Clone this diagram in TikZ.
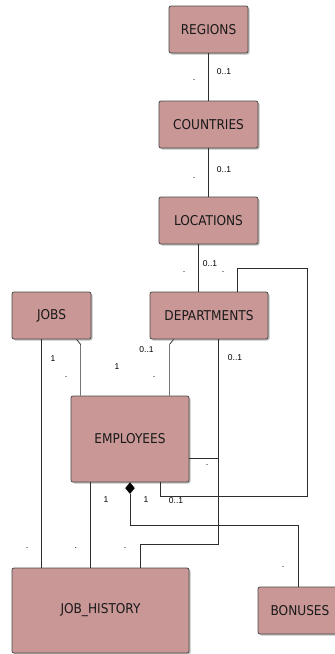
\documentclass[tikz,border=0pt]{standalone}
\usepackage{fontspec}
\setmainfont{Liberation Sans}
\newfontfamily\boxfont{DejaVu Sans Condensed}
\usetikzlibrary{shadows,shapes.geometric}
\definecolor{entfill}{RGB}{201,151,150}
\definecolor{entdraw}{RGB}{75,75,75}
\definecolor{linkc}{RGB}{45,45,45}
\begin{document}
\begin{tikzpicture}[x=1pt,y=-1pt,
  entity/.style={draw=entdraw, fill=entfill, rounded corners=2pt, line width=0.8pt,
    inner sep=0pt, font=\boxfont\fontsize{13.5}{16}\selectfont, text=black!90,
    drop shadow={shadow xshift=1.5pt, shadow yshift=-1.5pt, fill=black, opacity=0.25}},
  link/.style={draw=linkc, line width=0.7pt},
  mult/.style={font=\fontsize{8.5}{10}\selectfont, inner sep=0pt, text=black},
  role/.style={font=\fontsize{9}{10}\selectfont, inner sep=0pt, anchor=base, text=black}]
\useasboundingbox (0,0) rectangle (335,654);
\fill[white] (0,0) rectangle (335,654);
\clip (0,0) rectangle (335,654);

% entities
\node[entity, minimum width=79pt, minimum height=47pt] (regions) at (208.5,29.5) {REGIONS};
\node[entity, minimum width=99pt, minimum height=47pt] (countries) at (208.5,124.5) {COUNTRIES};
\node[entity, minimum width=99pt, minimum height=47pt] (locations) at (208.5,220.5) {LOCATIONS};
\node[entity, minimum width=79pt, minimum height=47pt] (jobs) at (51.5,315.5) {JOBS};
\node[entity, minimum width=118pt, minimum height=47pt] (departments) at (209,315.5) {DEPARTMENTS};
\node[entity, minimum width=118pt, minimum height=86pt] (employees) at (130,439) {EMPLOYEES};
\node[entity, minimum width=177pt, minimum height=85pt] (jobhist) at (100.5,610.5) {JOB\_HISTORY};
\node[entity, minimum width=84pt, minimum height=47pt] (bonuses) at (300,610.5) {BONUSES};

% helper coordinates
\coordinate (lp1) at (307,268);
\coordinate (lp2) at (160,496);
\coordinate (jh1) at (140,544);
\coordinate (b1) at (298,525);

% connectors
\draw[link] (regions) -- (countries);
\draw[link] (countries) -- (locations);
\draw[link] ([xshift=40pt]locations.south west) -- ([xshift=40pt]locations.south west |- departments.north);
\draw[link] ([xshift=88pt]departments.north west) |- (lp1) |- (lp2) -- (lp2 |- employees.south);
\draw[link] ([xshift=30pt]jobs.south west) -- ([xshift=30pt]jobs.south west |- jobhist.north);
\draw[link] ([xshift=65pt]jobs.south west) -- ++(4,5) coordinate (j2) -- (j2 |- employees.north);
\draw[link] ([xshift=24pt]departments.south west) -- ++(-4,5) coordinate (d2) -- (d2 |- employees.north);
\draw[link] ([xshift=69pt]departments.south west) |- ([yshift=-19pt]employees.east);
\draw[link] ([xshift=69pt]departments.south west) |- (jh1) -- (jh1 |- jobhist.north);
\draw[link] ([xshift=20pt]employees.south west) -- ([xshift=20pt]employees.south west |- jobhist.north);
\node[diamond, fill=black, draw=black, inner sep=0pt, minimum width=9pt, minimum height=11pt, anchor=north] (dia) at (employees.south) {};
\draw[link] (dia.south) |- (b1) -- (b1 |- bonuses.north);

% multiplicities
\node[mult] at (224,72) {0..1};
\node[mult] at (224,170) {0..1};
\node[mult] at (210,264) {0..1};
\node[mult] at (53,359) {1};
\node[mult] at (117,367) {1};
\node[mult] at (146.5,350) {0..1};
\node[mult] at (235,358) {0..1};
\node[mult] at (106,500) {1};
\node[mult] at (146,500) {1};
\node[mult] at (176,501) {0..1};

% role dots
\node[role] at (194,80.5) {.};
\node[role] at (194,178.5) {.};
\node[role] at (184,272.5) {.};
\node[role] at (223,272.5) {.};
\node[role] at (66,377.5) {.};
\node[role] at (154,377.5) {.};
\node[role] at (207,465.5) {.};
\node[role] at (27,548.5) {.};
\node[role] at (76,548.5) {.};
\node[role] at (125,548.5) {.};
\node[role] at (283,567.5) {.};
\end{tikzpicture}
\end{document}
